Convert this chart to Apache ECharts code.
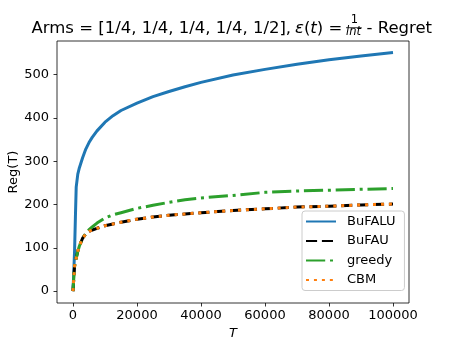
<!DOCTYPE html>
<html>
<head>
<meta charset="utf-8">
<script src="https://cdn.jsdelivr.net/npm/echarts@6/dist/echarts.min.js"></script>
<style>
  html, body { margin: 0; padding: 0; background: #fff; }
  #chart { width: 455px; height: 341px; }
</style>
</head>
<body>
<div id="chart"></div>
<script>
const steps = [0, 250, 500, 750, 1000, 1500, 2000, 3000, 4000, 5000, 6000, 7500, 10000, 12500, 15000,
  20000, 25000, 30000, 35000, 40000, 50000, 60000, 70000, 80000, 90000, 100000]

const bufalu = [0, 45, 95, 170, 240, 270, 285, 308, 328, 343, 355, 370, 390, 405, 417,
  434, 449, 461, 472, 482, 499, 512, 524, 534, 543, 551]
const bufau = [0, 30, 58, 68, 76, 92, 104, 122, 132, 138, 141, 145, 151, 155, 159,
  166, 171, 175, 178, 181, 186, 190, 194, 196, 199, 201]
const greedy = [0, 30, 58, 68, 76, 92, 104, 122, 133, 142, 148, 157, 169, 176, 181,
  191, 198, 205, 211, 215, 221, 228, 231, 233, 235, 237]
const cbm = [0, 30, 58, 68, 76, 92, 104, 122, 132, 138, 141, 145, 151, 155, 159,
  166, 171, 175, 178, 181, 186, 190, 194, 196, 199, 201]

const xTicks = [0, 20000, 40000, 60000, 80000, 100000]
const yTicks = [0, 100, 200, 300, 400, 500]

const FONT = 'DejaVu Sans'
const TITLE_FONT = '16.5px "DejaVu Sans"'
const TITLE_ITALIC = 'italic 16.5px "DejaVu Sans"'

function pairs(vals) {
  return steps.map((t, i) => [t, vals[i]])
}

function lineSeries(name, vals, color, type, width) {
  return {
    name: name,
    type: 'line',
    data: pairs(vals),
    symbol: 'none',
    smooth: false,
    animation: false,
    lineStyle: { color: color, width: width, type: type, cap: 'butt' },
    itemStyle: { color: color }
  }
}

const chart = echarts.init(document.getElementById('chart'), null, { renderer: 'canvas' })

chart.setOption({
  animation: false,
  textStyle: { fontFamily: FONT },
  grid: {
    left: 57, right: 46, top: 41, bottom: 38,
    outerBoundsMode: 'none',
    containLabel: false,
    show: true, borderColor: '#000', borderWidth: 0.8, backgroundColor: '#fff'
  },
  xAxis: {
    type: 'value',
    min: -5000,
    max: 105000,
    name: 'T',
    nameLocation: 'middle',
    nameGap: 24,
    nameMoveOverlap: false,
    nameTextStyle: { fontFamily: FONT, fontSize: 13, fontStyle: 'italic', color: '#000' },
    axisLine: { show: false, onZero: false },
    splitLine: { show: false },
    axisTick: { show: true, inside: false, length: 3.5, customValues: xTicks, lineStyle: { color: '#000', width: 0.8 } },
    axisLabel: { customValues: xTicks, margin: 6, fontFamily: FONT, fontSize: 13, color: '#000', formatter: v => String(v) }
  },
  yAxis: {
    type: 'value',
    min: -27.5,
    max: 577.5,
    name: 'Reg(T)',
    nameLocation: 'middle',
    nameGap: 37,
    nameMoveOverlap: false,
    nameTextStyle: { fontFamily: FONT, fontSize: 13, color: '#000' },
    axisLine: { show: false, onZero: false },
    splitLine: { show: false },
    axisTick: { show: true, inside: false, length: 3.5, customValues: yTicks, lineStyle: { color: '#000', width: 0.8 } },
    axisLabel: { customValues: yTicks, margin: 8, fontFamily: FONT, fontSize: 13, color: '#000', formatter: v => String(v) }
  },
  legend: {
    data: ['BuFALU', 'BuFAU', 'greedy', 'CBM'],
    orient: 'vertical',
    left: 302,
    top: 211,
    itemWidth: 30,
    itemHeight: 14,
    itemGap: 6.5,
    padding: [4, 9, 4, 3],
    backgroundColor: 'rgba(255,255,255,0.8)',
    borderColor: '#ccc',
    borderWidth: 1,
    borderRadius: 3,
    itemStyle: { opacity: 0 },   // hide the round marker, keep the line
    textStyle: { fontFamily: FONT, fontSize: 13, color: '#000', padding: [0, 0, 0, 6] }
  },
  // title built from pieces so the fraction 1/lnt can stack
  graphic: [
    { type: 'text', x: 31.5, y: 29, style: { text: 'Arms = [1/4, 1/4, 1/4, 1/4, 1/2],', font: TITLE_FONT, fill: '#000', verticalAlign: 'middle' } },
    {
      type: 'text', x: 295, y: 29,
      style: {
        text: '{i|ε}{n|(}{i|t}{n|) =}',
        fill: '#000', verticalAlign: 'middle',
        rich: {
          n: { font: TITLE_FONT, fill: '#000' },
          i: { font: TITLE_ITALIC, fill: '#000' }
        }
      }
    },
    { type: 'text', x: 354.5, y: 20, style: { text: '1', font: '11.5px "DejaVu Sans"', fill: '#000', align: 'center', verticalAlign: 'middle' } },
    { type: 'line', shape: { x1: 346, y1: 27.7, x2: 361.7, y2: 27.7 }, style: { stroke: '#000', lineWidth: 0.8 } },
    { type: 'text', x: 353.5, y: 32.5, style: { text: 'lnt', font: 'italic 11.5px "DejaVu Sans"', fill: '#000', align: 'center', verticalAlign: 'middle' } },
    { type: 'text', x: 366.5, y: 29, style: { text: '- Regret', font: TITLE_FONT, fill: '#000', verticalAlign: 'middle' } }
  ],
  series: [
    lineSeries('BuFALU', bufalu, '#1f77b4', 'solid', 3),
    lineSeries('BuFAU', bufau, '#000000', [11.1, 4.8], 3),
    lineSeries('greedy', greedy, '#2ca02c', [19.2, 4.8, 3, 4.8], 3),
    lineSeries('CBM', cbm, '#ff7f0e', [3, 4.95], 3)
  ]
})
</script>
</body>
</html>
